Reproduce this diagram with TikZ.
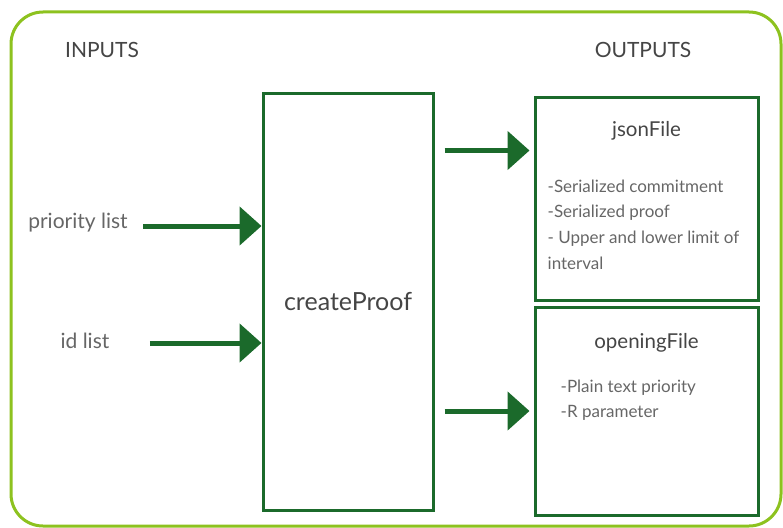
\documentclass[tikz,border=0pt]{standalone}
\usepackage{fontspec}
\setmainfont{Lato}
\usetikzlibrary{arrows.meta,positioning}
\definecolor{framegreen}{HTML}{8DC21F}
\definecolor{boxgreen}{HTML}{1B6A2B}
\definecolor{titlegray}{HTML}{454545}
\definecolor{itemgray}{HTML}{666666}

\begin{document}
\begin{tikzpicture}[
        x=1pt, y=-1pt,
        box/.style={draw=boxgreen, line width=3pt, inner sep=0pt},
        heading/.style={text=titlegray, font=\fontsize{21}{25}\selectfont},
        inputtext/.style={text=itemgray, font=\fontsize{21}{25}\selectfont},
        boxtitle/.style={text=titlegray, font=\fontsize{20.5}{25}\selectfont},
        items/.style={text=itemgray, align=left, anchor=north west, inner sep=0pt,
                      font=\fontsize{17}{25.7}\selectfont},
        arrow/.style={-{Triangle[length=22pt,width=38pt]}, line width=5pt, draw=boxgreen}
    ]

    \useasboundingbox (0,0) rectangle (783,527);
    \clip (0,0) rectangle (783,527);

    % Outer frame
    \draw[framegreen, line width=3pt, rounded corners=32pt] (11,12) rectangle (781,526);

    % Headings
    \node[heading] (inputs) at (102,50) {INPUTS};
    \node[heading] (outputs) at (643,50) {OUTPUTS};

    % Main process
    \node[box, minimum width=170pt, minimum height=417pt] (proof) at (348,301.5) {};
    \node[boxtitle, font=\fontsize{25}{30}\selectfont] at (proof) {createProof};

    % Inputs
    \node[inputtext] (prio) at (78,223) {priority list};
    \node[inputtext] (ids) at (85,341) {id list};

    % Output files
    \node[box, minimum width=223pt, minimum height=203pt] (json) at (646.5,198.5) {};
    \node[box, minimum width=223pt, minimum height=208pt] (opening) at (646.5,411) {};

    \node[boxtitle] (jsontitle) at ([yshift=-35pt]json.north) {jsonFile};
    \node[items] (jsonitems) at ([xshift=14pt, yshift=-84pt]json.north west)
        {-Serialized commitment\\-Serialized proof\\- Upper and lower limit of\\interval};

    \node[boxtitle] (openingtitle) at ([yshift=-37pt]opening.north) {openingFile};
    \node[items] (openingitems) at ([xshift=27pt, yshift=-74pt]opening.north west)
        {-Plain text priority\\-R parameter};

    % Arrows
    \draw[arrow] ([xshift=12pt, yshift=-3pt]prio.east) -- ([yshift=-3pt]prio.east -| proof.west);
    \draw[arrow] ([xshift=37pt, yshift=-2pt]ids.east) -- ([yshift=-2pt]ids.east -| proof.west);
    \draw[arrow, shorten >=4pt] ([xshift=10pt, yshift=48pt]proof.east |- json.west) -- ([yshift=48pt]json.west);
    \draw[arrow, shorten >=4pt] ([xshift=10pt]proof.east |- opening.west) -- (opening.west);

\end{tikzpicture}
\end{document}
